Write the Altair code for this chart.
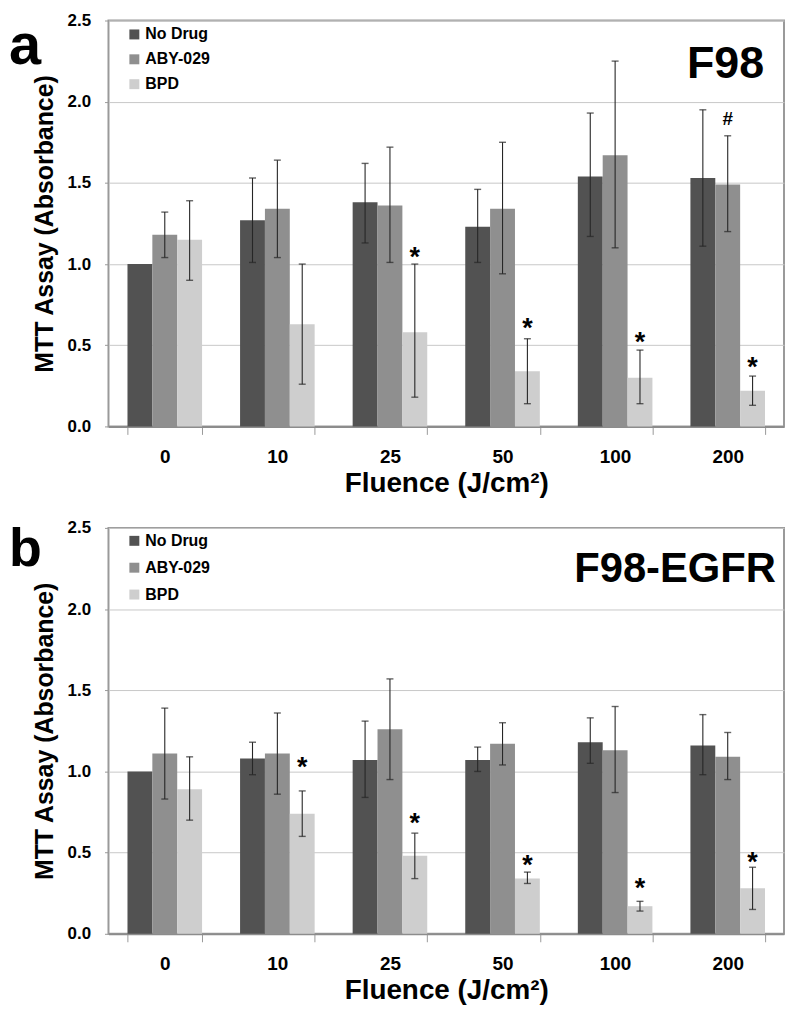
import altair as alt
import pandas as pd

FONT = "Liberation Sans"

fluence = ["0", "10", "25", "50", "100", "200"]
series = ["No Drug", "ABY-029", "BPD"]
colors = ["#525252", "#8f8f8f", "#cecece"]

# Panel a: F98
a_nodrug = [1.00, 1.27, 1.38, 1.23, 1.54, 1.53]
a_nodrug_lo = [None, 1.01, 1.13, 1.01, 1.17, 1.11]
a_nodrug_hi = [None, 1.53, 1.62, 1.46, 1.93, 1.95]
a_aby = [1.18, 1.34, 1.36, 1.34, 1.67, 1.49]
a_aby_lo = [1.04, 1.04, 1.01, 0.94, 1.10, 1.20]
a_aby_hi = [1.32, 1.64, 1.72, 1.75, 2.25, 1.79]
a_bpd = [1.15, 0.63, 0.58, 0.34, 0.30, 0.22]
a_bpd_lo = [0.90, 0.26, 0.18, 0.14, 0.14, 0.13]
a_bpd_hi = [1.39, 1.00, 1.00, 0.54, 0.47, 0.31]
a_ann_fluence = ["25", "50", "100", "200", "200"]
a_ann_series = ["BPD", "BPD", "BPD", "BPD", "ABY-029"]
a_ann_symbol = ["*", "*", "*", "*", "#"]
a_ann_pos = [1.08, 0.64, 0.555, 0.40, 1.90]

# Panel b: F98-EGFR
b_nodrug = [1.00, 1.08, 1.07, 1.07, 1.18, 1.16]
b_nodrug_lo = [None, 0.98, 0.84, 1.00, 1.05, 0.98]
b_nodrug_hi = [None, 1.18, 1.31, 1.15, 1.33, 1.35]
b_aby = [1.11, 1.11, 1.26, 1.17, 1.13, 1.09]
b_aby_lo = [0.83, 0.86, 0.95, 1.04, 0.87, 0.95]
b_aby_hi = [1.39, 1.36, 1.57, 1.30, 1.40, 1.24]
b_bpd = [0.89, 0.74, 0.48, 0.34, 0.17, 0.28]
b_bpd_lo = [0.70, 0.60, 0.34, 0.31, 0.14, 0.15]
b_bpd_hi = [1.09, 0.88, 0.62, 0.38, 0.20, 0.41]
b_ann_fluence = ["10", "25", "50", "100", "200"]
b_ann_series = ["BPD", "BPD", "BPD", "BPD", "BPD"]
b_ann_symbol = ["*", "*", "*", "*", "*"]
b_ann_pos = [1.065, 0.72, 0.46, 0.316, 0.48]

W = 679
H = 408
Y_TITLE = "MTT Assay (Absorbance)"


def make_df(vals, los, his):
    rows = []
    for s, v, lo, hi in zip(series, vals, los, his):
        for f, vv, l, h in zip(fluence, v, lo, hi):
            rows.append(dict(Fluence=f, Series=s, Value=vv, Lo=l, Hi=h))
    return pd.DataFrame(rows)


def make_ann(fl, se, sy, po):
    return pd.DataFrame(dict(Fluence=fl, Series=se, Sym=sy, Pos=po))


def panel(df, ann, letter, letter_size, letter_y, name, name_size, name_x, name_y, row_pad, legend_y):
    x = alt.X(
        "Fluence:N",
        sort=fluence,
        scale=alt.Scale(domain=fluence, paddingInner=0.3375, paddingOuter=0.16875),
        axis=alt.Axis(
            title="Fluence (J/cm²)", labelAngle=0, labelFont=FONT, labelFontSize=19,
            labelFontWeight="bold", labelColor="#000", labelPadding=13,
            tickBand="extent", tickSize=8, tickColor="#999", tickWidth=1,
            domainColor="#8c8c8c", domainWidth=2, grid=False,
            titleFont=FONT, titleFontSize=28, titleFontWeight="bold",
            titleColor="#000", titlePadding=3,
        ),
    )
    xo = alt.XOffset("Series:N", sort=series, scale=alt.Scale(domain=series))
    yaxis = alt.Axis(
        title=Y_TITLE, values=[0, 0.5, 1.0, 1.5, 2.0, 2.5], format=".1f",
        labelFont=FONT, labelFontSize=17, labelFontWeight="bold", labelColor="#000",
        labelPadding=14, tickSize=4, tickColor="#999", domain=False,
        gridColor="#c8c8c8", gridWidth=1,
        titleFont=FONT, titleFontSize=25, titleFontWeight="bold", titleColor="#000",
        titlePadding=10,
    )
    yscale = alt.Scale(domain=[0, 2.5], nice=False)

    bars = alt.Chart(df).mark_bar().encode(
        x=x, xOffset=xo,
        y=alt.Y("Value:Q", scale=yscale, axis=yaxis),
        color=alt.Color(
            "Series:N", sort=series, scale=alt.Scale(domain=series, range=colors),
            legend=alt.Legend(
                orient="none", legendX=18, legendY=legend_y, title=None,
                direction="vertical", symbolType="square", symbolSize=100,
                symbolStrokeWidth=0, labelFont=FONT, labelFontSize=16,
                labelFontWeight="bold", labelColor="#000", labelOffset=3,
                rowPadding=row_pad, padding=0,
            ),
        ),
    )
    err = alt.Chart(df).transform_filter("isValid(datum.Lo)")
    rules = err.mark_rule(color="#262626", strokeWidth=1.1).encode(
        x=x, xOffset=xo,
        y=alt.Y("Lo:Q", scale=yscale, title=Y_TITLE), y2="Hi:Q",
    )
    cap_lo = err.mark_tick(color="#262626", size=7, thickness=1.4, orient="horizontal").encode(
        x=x, xOffset=xo, y=alt.Y("Lo:Q", scale=yscale, title=Y_TITLE),
    )
    cap_hi = err.mark_tick(color="#262626", size=7, thickness=1.4, orient="horizontal").encode(
        x=x, xOffset=xo, y=alt.Y("Hi:Q", scale=yscale, title=Y_TITLE),
    )
    base_ann = alt.Chart(ann)
    stars = base_ann.transform_filter("datum.Sym == '*'").mark_text(
        font=FONT, fontWeight="bold", fontSize=27, baseline="alphabetic", dy=15, color="#000"
    ).encode(x=x, xOffset=xo, y=alt.Y("Pos:Q", scale=yscale, title=Y_TITLE), text="Sym:N")
    hashes = base_ann.transform_filter("datum.Sym == '#'").mark_text(
        font=FONT, fontWeight="bold", fontSize=19, baseline="alphabetic", dy=7, color="#000"
    ).encode(x=x, xOffset=xo, y=alt.Y("Pos:Q", scale=yscale, title=Y_TITLE), text="Sym:N")

    letter_mark = alt.Chart(pd.DataFrame({"t": [letter]})).mark_text(
        font=FONT, fontWeight="bold", fontSize=letter_size, align="left",
        baseline="alphabetic", color="#000"
    ).encode(x=alt.value(-100), y=alt.value(letter_y), text="t:N")
    name_mark = alt.Chart(pd.DataFrame({"t": [name]})).mark_text(
        font=FONT, fontWeight="bold", fontSize=name_size, align="right",
        baseline="alphabetic", color="#000"
    ).encode(x=alt.value(name_x), y=alt.value(name_y), text="t:N")

    return alt.layer(bars, rules, cap_lo, cap_hi, stars, hashes, letter_mark, name_mark).properties(
        width=W, height=H
    )


df_a = make_df([a_nodrug, a_aby, a_bpd], [a_nodrug_lo, a_aby_lo, a_bpd_lo], [a_nodrug_hi, a_aby_hi, a_bpd_hi])
df_b = make_df([b_nodrug, b_aby, b_bpd], [b_nodrug_lo, b_aby_lo, b_bpd_lo], [b_nodrug_hi, b_aby_hi, b_bpd_hi])
ann_a = make_ann(a_ann_fluence, a_ann_series, a_ann_symbol, a_ann_pos)
ann_b = make_ann(b_ann_fluence, b_ann_series, b_ann_symbol, b_ann_pos)

pa = panel(df_a, ann_a, "a", 58, 44, "F98", 45, W - 20, 58, 9, 6)
pb = panel(df_b, ann_b, "b", 54, 38, "F98-EGFR", 42, W - 8, 54, 11, 5)

chart = alt.vconcat(pa, pb, spacing=20).resolve_scale(color="independent").properties(
    padding=0
).configure_view(stroke="#9a9a9a", strokeWidth=2)

chart.save("out.html", embed_options={"renderer": "svg", "actions": False})
